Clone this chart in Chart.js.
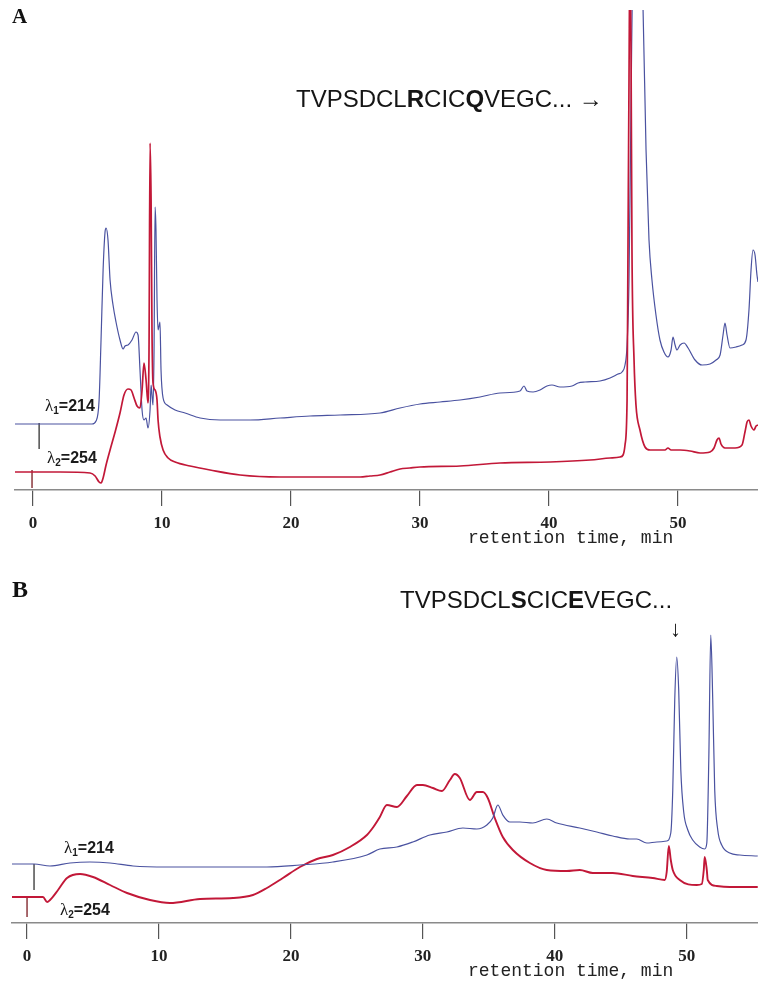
<!DOCTYPE html>
<html><head><meta charset="utf-8">
<script src="https://cdn.jsdelivr.net/npm/chart.js@4.4.1/dist/chart.umd.min.js"></script>
<style>
html,body{margin:0;padding:0;background:#fff;}
body{width:758px;height:983px;position:relative;overflow:hidden;}
canvas{position:absolute;left:0;}
.lbl{position:absolute;white-space:nowrap;line-height:1;color:#111;}
.panel{font-family:'Liberation Serif','Times New Roman',serif;font-weight:bold;}
.seq{font-family:'Liberation Sans',Arial,sans-serif;color:#151515;}
.lam{font-family:'Liberation Sans',Arial,sans-serif;font-weight:bold;font-size:16px;color:#1a1a1a;}
.lam i{font-family:'Liberation Serif',serif;font-style:normal;font-weight:normal;font-size:17px;}
.lam sub{font-size:10px;vertical-align:-3px;line-height:0;}
.xt{font-family:'Liberation Mono','Courier New',monospace;font-size:18px;color:#222;}
</style></head><body>
<canvas id="cA" width="758" height="560" style="top:0"></canvas>
<canvas id="cB" width="758" height="423" style="top:560px"></canvas>

<div class="lbl panel" style="left:12px;top:6px;font-size:21px">A</div>
<div class="lbl panel" style="left:12px;top:577px;font-size:24px">B</div>
<div class="lbl seq" style="left:296px;top:87px;font-size:24px">TVPSDCL<b>R</b>CIC<b>Q</b>VEGC... &rarr;</div>
<div class="lbl seq" style="left:400px;top:588px;font-size:24px">TVPSDCL<b>S</b>CIC<b>E</b>VEGC...</div>
<div class="lbl seq" style="left:670px;top:618px;font-size:22px">&darr;</div>
<div class="lbl lam" style="left:45px;top:397px"><i>&lambda;</i><sub>1</sub>=214</div>
<div class="lbl lam" style="left:47px;top:449px"><i>&lambda;</i><sub>2</sub>=254</div>
<div class="lbl lam" style="left:64px;top:839px"><i>&lambda;</i><sub>1</sub>=214</div>
<div class="lbl lam" style="left:60px;top:901px"><i>&lambda;</i><sub>2</sub>=254</div>
<div class="lbl xt" style="left:468px;top:529px">retention time, min</div>
<div class="lbl xt" style="left:468px;top:962px">retention time, min</div>

<script>
// ---- tick labels (minutes) ----
const ticksA = [0, 10, 20, 30, 40, 50];
const ticksB = [0, 10, 20, 30, 40, 50];

// ---- Panel A, lambda1 = 214 nm (retention time, min / signal, a.u.) ----
const timeA214 = [-1.40,2.09,4.57,4.88,5.12,5.27,5.43,5.58,5.66,5.81,5.97,6.20,6.43,6.74,6.98,7.13,7.36,7.67,7.98,8.14,8.29,8.45,8.60,8.76,8.91,9.07,9.15,9.22,9.30,9.38,9.46,9.53,9.61,9.69,9.84,9.92,10.08,10.39,11.01,11.78,12.95,14.50,16.82,19.15,21.47,23.80,26.90,28.45,30.00,31.55,33.10,34.65,36.20,37.75,38.06,38.29,38.76,39.30,39.84,40.23,40.85,41.78,42.25,42.79,43.95,44.73,45.35,45.66,45.89,46.05,46.20,46.36,46.51,46.82,47.13,47.29,47.52,47.75,47.98,48.29,48.60,48.91,49.22,49.46,49.61,49.77,49.92,50.16,50.47,50.78,51.32,51.86,52.48,52.95,53.26,53.49,53.64,53.80,54.03,54.50,54.96,55.27,55.50,55.66,55.81,55.97,56.12,56.20];
const absA214 = [66,66,66,69,90,150,220,258,262,250,210,185,168,150,141,144,145,150,158,155,120,80,70,72,62,80,105,95,85,140,283,260,190,160,168,120,92,85,80,77,72,70,70,72,74,75,77,82,86,88,90,93,97,99,104,99,98,100,104,105,103,104,107,108,109,112,116,118,125,145,210,390,550,640,530,480,340,250,210,175,150,138,133,140,153,145,140,145,147,142,130,125,126,130,135,155,167,155,142,143,145,150,180,220,240,235,215,208];

// ---- Panel A, lambda2 = 254 nm ----
const timeA254 = [-1.40,2.09,4.42,4.81,5.12,5.27,5.43,5.66,5.97,6.36,6.74,7.05,7.36,7.60,7.83,8.06,8.29,8.45,8.60,8.76,8.91,8.99,9.07,9.15,9.22,9.30,9.46,9.61,9.69,9.84,10.08,10.47,11.01,12.17,13.72,16.05,19.15,22.25,25.35,26.12,26.90,27.67,28.45,29.20,30.00,33.10,36.20,40.08,43.18,44.73,45.50,45.74,45.89,46.05,46.12,46.20,46.28,46.36,46.43,46.59,46.74,47.05,47.44,47.83,48.60,48.99,49.22,49.46,50.16,50.93,51.71,52.48,52.79,53.02,53.18,53.33,53.64,54.42,54.96,55.19,55.35,55.50,55.66,55.89,56.05,56.20];
const absA254 = [18,18,17,14,8,7,12,25,40,58,77,95,101,100,92,84,82,100,127,110,87,140,347,290,160,107,100,90,70,53,40,32,28,24,20,15,13,13,13,14,15,18,21,22,23,24,27,28,30,32,33,35,45,90,240,410,550,430,240,130,85,60,43,40,40,40,42,40,40,39,37,38,42,50,52,46,42,42,45,58,68,70,64,60,64,65];

// ---- Panel B, lambda1 = 214 nm ----
const timeB214 = [-1.14,0.53,1.74,3.26,4.77,6.29,8.03,10.61,14.09,18.18,20.68,23.18,25.76,26.74,28.03,29.24,30.53,31.82,33.03,34.09,34.85,35.30,35.68,36.06,36.59,37.35,38.33,39.39,40.15,41.89,43.18,44.39,45.68,46.21,46.97,47.73,48.48,48.79,48.94,49.09,49.24,49.39,49.55,49.77,50.08,50.45,50.98,51.36,51.52,51.67,51.82,51.97,52.12,52.35,52.65,53.26,54.02,55.38];
const absB214 = [59,59,57,60,61,60,57,56,56,56,58,61,68,74,76,81,88,91,95,94,98,105,118,108,101,101,100,104,100,95,91,87,84,84,80,81,82,90,133,223,266,233,153,111,93,83,76,74,80,163,288,223,133,93,78,70,68,67];

// ---- Panel B, lambda2 = 254 nm ----
const timeB254 = [-1.14,0.00,1.21,1.52,1.74,2.35,3.03,4.02,5.00,6.29,7.58,9.32,10.83,13.11,15.61,17.12,18.18,19.39,20.68,21.97,23.18,24.47,25.76,26.25,26.74,27.27,28.03,28.79,29.55,30.00,30.76,31.44,32.05,32.42,32.80,33.56,34.09,34.55,34.92,35.45,36.06,36.82,38.11,39.39,40.91,41.89,42.88,44.39,45.91,47.42,48.33,48.48,48.64,48.79,48.94,49.47,50.76,51.14,51.29,51.36,51.52,51.59,52.27,53.26,55.38];
const absB254 = [26,26,26,21,23,33,45,49,46,38,30,23,20,24,25,28,35,45,56,64,68,76,88,96,106,118,116,127,138,138,135,132,143,149,145,123,131,131,125,105,86,73,60,53,52,53,50,50,47,45,43,51,77,63,53,43,38,39,53,66,53,43,37,36,36];

// ---- injection marks (time, signal from/to) ----
const injTimeA214 = [0.47, 0.47];  const injAbsA214 = [67, 41];
const injTimeA254 = [-0.08, -0.08]; const injAbsA254 = [20, 2];
const injTimeB214 = [0.53, 0.53];  const injAbsB214 = [59, 33];
const injTimeB254 = [0.00, 0.00];  const injAbsB254 = [26, 6];

const BLUE = '#4a52a0', RED = '#c21838';
const pts = (t, a) => t.map((x, i) => ({ x: x, y: a[i] }));

function trace(t, a, color, w) {
  return { data: pts(t, a), borderColor: color, borderWidth: w, pointRadius: 0,
           fill: false, cubicInterpolationMode: 'monotone' };
}
function mark(t, a, color) {
  return { data: pts(t, a), borderColor: color, borderWidth: 1.3, pointRadius: 0, fill: false, tension: 0 };
}

function build(id, datasets, xr, yr, ticks, padLeft, padTop, axisH) {
  return new Chart(document.getElementById(id), {
    type: 'line',
    data: { datasets: datasets },
    options: {
      responsive: false, animation: false, devicePixelRatio: 1,
      layout: { padding: { left: padLeft, right: 0, top: padTop, bottom: 0 } },
      plugins: { legend: { display: false }, tooltip: { enabled: false } },
      scales: {
        x: {
          type: 'linear', min: xr[0], max: xr[1],
          afterFit: s => { s.height = axisH; },
          afterBuildTicks: s => { s.ticks = ticks.map(v => ({ value: v })); },
          grid: { drawOnChartArea: false, drawTicks: true, tickLength: 16, color: '#555', lineWidth: 1.2 },
          border: { display: true, color: '#8a8a8a', width: 1.5 },
          ticks: { color: '#222', padding: 7, maxRotation: 0, autoSkip: false,
                   font: { family: "'Liberation Serif','Times New Roman',serif", weight: 'bold', size: 17 } }
        },
        y: { display: false, min: yr[0], max: yr[1] }
      }
    }
  });
}

build('cA', [
  trace(timeA254, absA254, RED, 1.7),
  trace(timeA214, absA214, BLUE, 1.2),
  mark(injTimeA214, injAbsA214, '#333'),
  mark(injTimeA254, injAbsA254, '#7a1a20')
], [-1.40, 56.20], [0, 480], ticksA, 15, 10, 70);

build('cB', [
  trace(timeB214, absB214, BLUE, 1.2),
  trace(timeB254, absB254, RED, 1.9),
  mark(injTimeB214, injAbsB214, '#333'),
  mark(injTimeB254, injAbsB254, '#7a1a20')
], [-1.14, 55.40], [0, 363], ticksB, 12, 0, 60);
</script>
</body></html>
